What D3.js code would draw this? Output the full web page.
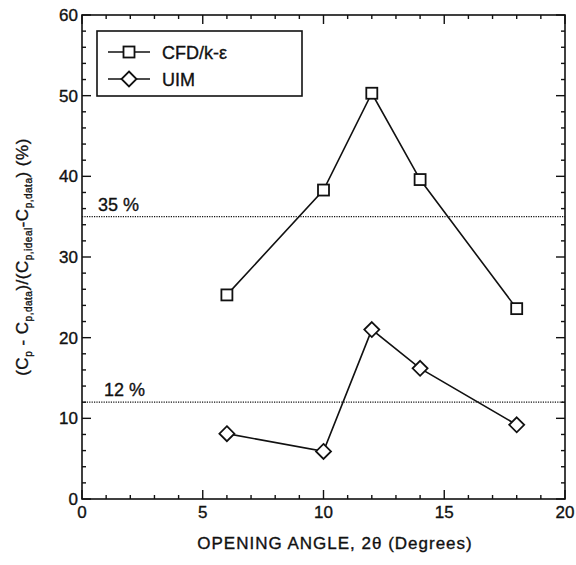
<!DOCTYPE html>
<html>
<head>
<meta charset="utf-8">
<script src="https://cdn.jsdelivr.net/npm/d3@7/dist/d3.min.js"></script>
<style>
  html, body { margin: 0; padding: 0; background: #fff; }
  svg text { font-family: "Liberation Sans", Arial, Helvetica, sans-serif; fill: #111; stroke: #111; stroke-width: 0.35; }
</style>
</head>
<body>
<svg id="chart" width="576" height="565"></svg>
<script>
// Opening angle 2θ (degrees) and relative error of each method (%)
const angles = [6, 10, 12, 14, 18];
const cfdValues = [25.3, 38.3, 50.3, 39.6, 23.6];
const uimValues = [8.1, 5.9, 21.0, 16.2, 9.2];
const seriesNames = ["CFD/k-ε", "UIM"];
const refLevels = [35, 12];
const xTicks = [0, 5, 10, 15, 20];
const yTicks = [0, 10, 20, 30, 40, 50, 60];

(function draw() {
  const svg = d3.select("#chart");
  const pLeft = 82, pRight = 565, pTop = 15, pBottom = 499;

  const x = d3.scaleLinear().domain([0, 20]).range([pLeft, pRight]);
  const y = d3.scaleLinear().domain([0, 60]).range([pBottom, pTop]);

  const ink = "#111";

  // Frame
  svg.append("rect")
    .attr("x", pLeft).attr("y", pTop)
    .attr("width", pRight - pLeft).attr("height", pBottom - pTop)
    .attr("fill", "none").attr("stroke", ink).attr("stroke-width", 1.6);

  // Inward ticks on all four sides (major + minor)
  const xMinor = d3.range(0, 21, 1);
  const yMinor = d3.range(0, 61, 2);
  const tickG = svg.append("g").attr("stroke", ink).attr("stroke-width", 1.4);
  xMinor.forEach(v => {
    const len = v % 5 === 0 ? 9 : 4;
    tickG.append("line").attr("x1", x(v)).attr("x2", x(v)).attr("y1", pBottom).attr("y2", pBottom - len);
    tickG.append("line").attr("x1", x(v)).attr("x2", x(v)).attr("y1", pTop).attr("y2", pTop + len);
  });
  yMinor.forEach(v => {
    const len = v % 10 === 0 ? 9 : 4;
    tickG.append("line").attr("y1", y(v)).attr("y2", y(v)).attr("x1", pLeft).attr("x2", pLeft + len);
    tickG.append("line").attr("y1", y(v)).attr("y2", y(v)).attr("x1", pRight).attr("x2", pRight - len);
  });

  // Tick labels
  svg.append("g").selectAll("text").data(xTicks).join("text")
    .attr("x", d => x(d)).attr("y", 518)
    .attr("text-anchor", "middle").attr("font-size", 17)
    .text(d => d);
  svg.append("g").selectAll("text").data(yTicks).join("text")
    .attr("x", 78).attr("y", d => y(d) + 6)
    .attr("text-anchor", "end").attr("font-size", 17)
    .text(d => d);

  // Axis titles
  svg.append("text")
    .attr("x", 335).attr("y", 549)
    .attr("text-anchor", "middle").attr("font-size", 17).attr("letter-spacing", 1)
    .text("OPENING ANGLE, 2θ (Degrees)");

  const yt = svg.append("text")
    .attr("transform", "translate(28,257) rotate(-90)")
    .attr("text-anchor", "middle").attr("font-size", 17).attr("letter-spacing", 0.5);
  const sub = (t) => yt.append("tspan").attr("font-size", 10).attr("dy", 4).text(t);
  const up = (t) => yt.append("tspan").attr("dy", -4).text(t);
  yt.append("tspan").text("(C");
  sub("p");
  up(" - C");
  sub("p,data");
  up(")/(C");
  sub("p,ideal");
  up("-C");
  sub("p,data");
  up(") (%)");

  // Reference levels
  refLevels.forEach(v => {
    svg.append("line")
      .attr("x1", pLeft).attr("x2", pRight).attr("y1", y(v)).attr("y2", y(v))
      .attr("stroke", ink).attr("stroke-width", 1.2).attr("stroke-dasharray", "1.2,1.2");
    svg.append("text")
      .attr("x", v === 35 ? 98 : 104).attr("y", y(v) - 6)
      .attr("font-size", 18)
      .text(v + " %");
  });

  // Series lines and markers
  const line = d3.line().x((d, i) => x(angles[i])).y(d => y(d));
  [cfdValues, uimValues].forEach(vals => {
    svg.append("path").datum(vals).attr("d", line)
      .attr("fill", "none").attr("stroke", ink).attr("stroke-width", 1.6);
  });

  const square = (g, cx, cy) => g.append("rect")
    .attr("x", cx - 5.5).attr("y", cy - 5.5).attr("width", 11).attr("height", 11)
    .attr("fill", "#fff").attr("stroke", ink).attr("stroke-width", 1.8);
  const diamond = (g, cx, cy) => g.append("path")
    .attr("d", `M${cx},${cy - 7.5}L${cx + 7.5},${cy}L${cx},${cy + 7.5}L${cx - 7.5},${cy}Z`)
    .attr("fill", "#fff").attr("stroke", ink).attr("stroke-width", 1.8);

  const mg = svg.append("g");
  cfdValues.forEach((v, i) => square(mg, x(angles[i]), y(v)));
  uimValues.forEach((v, i) => diamond(mg, x(angles[i]), y(v)));

  // Legend
  const lg = svg.append("g");
  lg.append("rect").attr("x", 97).attr("y", 31).attr("width", 205).attr("height", 65)
    .attr("fill", "#fff").attr("stroke", ink).attr("stroke-width", 1.6);
  [52, 79].forEach((ly, i) => {
    lg.append("line").attr("x1", 108).attr("x2", 150).attr("y1", ly).attr("y2", ly)
      .attr("stroke", ink).attr("stroke-width", 1.6);
    if (i === 0) square(lg, 129, ly); else diamond(lg, 129, ly);
    lg.append("text").attr("x", 162).attr("y", ly + 7).attr("font-size", 18)
      .text(seriesNames[i]);
  });
})();
</script>
</body>
</html>
